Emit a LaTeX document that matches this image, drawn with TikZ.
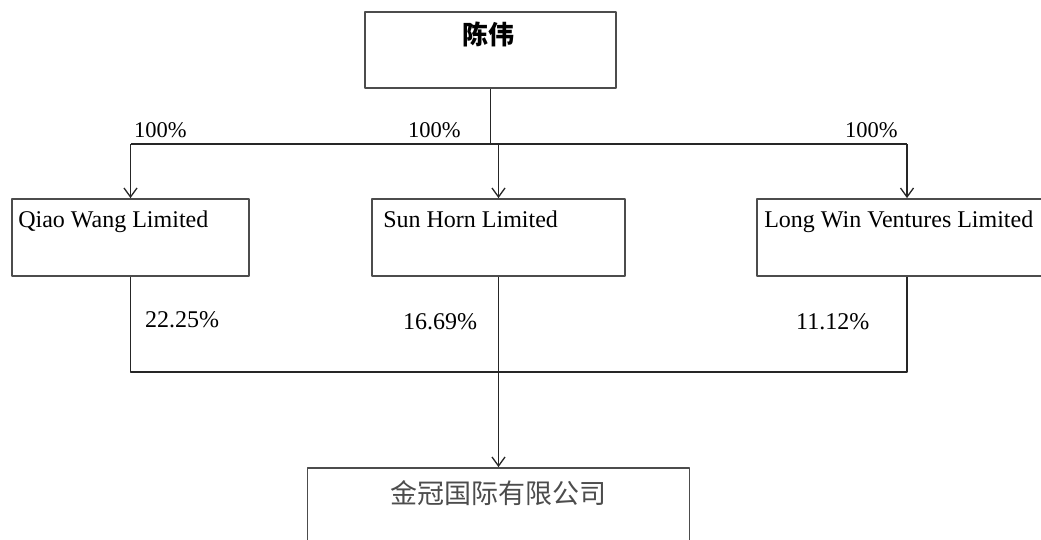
\documentclass[tikz,border=0pt]{standalone}
\usepackage{fontspec}
\setmainfont{Liberation Serif}
\newfontfamily\cjk{Noto Sans CJK SC}
\usetikzlibrary{arrows.meta}

\begin{document}
\begin{tikzpicture}[x=1pt, y=-1pt, line join=round, >={Straight Barb[length=9pt,width=13pt]},
	box/.style={draw=black!70, line width=1.8pt, inner sep=0pt},
	conn/.style={draw=black!85, line width=1.3pt},
	boxtext/.style={anchor=base west, inner sep=0pt, font=\fontsize{24}{27}\selectfont},
	pct/.style={anchor=base west, inner sep=0pt, font=\fontsize{24}{27}\selectfont},
	toppct/.style={anchor=base west, inner sep=0pt, font=\fontsize{22.5}{25}\selectfont}]

	\useasboundingbox (0,0) rectangle (1041,539);

	% boxes
	\node[box, minimum width=251pt, minimum height=76pt] (chen) at (490.5,50) {};
	\node[box, minimum width=237pt, minimum height=77pt] (qw) at (130.5,237.5) {};
	\node[box, minimum width=253pt, minimum height=77pt] (sh) at (498.5,237.5) {};
	\node[box, minimum width=300pt, minimum height=77pt] (lw) at (907,237.5) {};
	\node[box, minimum width=382pt, minimum height=92pt] (jin) at (498.5,514) {};

	% texts
	\node[inner sep=0pt, font=\fontsize{26}{28}\cjk\bfseries] (chent) at ([shift={(-2,23)}]chen.north) {陈伟};
	\node[boxtext] (qwt) at ([shift={(7,29)}]qw.north west) {Qiao Wang Limited};
	\node[boxtext] (sht) at ([shift={(12,29)}]sh.north west) {Sun Horn Limited};
	\node[boxtext] (lwt) at ([shift={(8,29)}]lw.north west) {Long Win Ventures Limited};
	\node[inner sep=0pt, text=black!70, font=\fontsize{27}{29}\cjk] (jint) at ([shift={(0,26)}]jin.north) {金冠国际有限公司};

	% upper bus
	\coordinate (busT) at (0,144);
	\draw[conn] (chen.south) -- (chen.south |- busT);
	\draw[conn] (qw.north |- busT) -- (lw.north |- busT);
	\draw[conn,->] (qw.north |- busT) -- (qw.north);
	\draw[conn,->] (sh.north |- busT) -- (sh.north);
	\draw[conn,->] (lw.north |- busT) -- (lw.north);

	\node[toppct] (p1) at (134,137) {100\%};
	\node[toppct] (p2) at (408,137) {100\%};
	\node[toppct] (p3) at (845,137) {100\%};

	% lower bus
	\coordinate (busB) at (0,372);
	\draw[conn] (qw.south) -- (qw.south |- busB) -- (lw.south |- busB) -- (lw.south);
	\draw[conn,->] (sh.south) -- (jin.north);

	\node[pct] (q1) at (145,327) {22.25\%};
	\node[pct] (q2) at (403,329) {16.69\%};
	\node[pct] (q3) at (796,329) {11.12\%};
\end{tikzpicture}
\end{document}
